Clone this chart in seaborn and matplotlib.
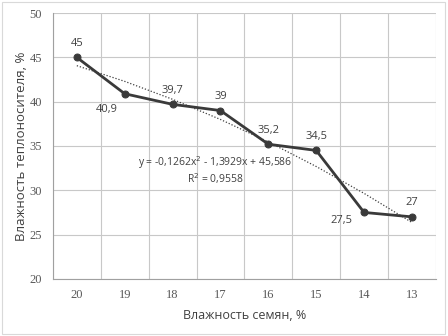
import matplotlib
matplotlib.use("Agg")
import matplotlib.pyplot as plt
import numpy as np
import pandas as pd
import seaborn as sns

# data
seed_moist = ["20", "19", "18", "17", "16", "15", "14", "13"]
carrier_moist = [45, 40.9, 39.7, 39, 35.2, 34.5, 27.5, 27]
point_labels = ["45", "40,9", "39,7", "39", "35,2", "34,5", "27,5", "27"]
label_below = [False, True, False, False, False, False, True, False]

# polynomial trend coefficients (Excel trendline, x = 1..n)
trend_a, trend_b, trend_c = -0.1262, -1.3929, 45.586
equation = "y = -0,1262x$^2$ - 1,3929x + 45,586"
r_squared = "R$^2$ = 0,9558"

df = pd.DataFrame({"seed": seed_moist, "carrier": carrier_moist})

sns.set_style("white")
plt.rcParams["font.family"] = ["Open Sans", "DejaVu Sans"]

fig = plt.figure(figsize=(4.48, 3.36), dpi=100)
ax = fig.add_axes([0.118, 0.170, 0.855, 0.791])

# trendline
xi = np.arange(1, len(seed_moist) + 1)
trend = trend_a * xi**2 + trend_b * xi + trend_c
ax.plot(xi - 1, trend, linestyle=(0, (1, 1.5)), color="#404040", linewidth=0.9, zorder=2)

sns.lineplot(data=df, x="seed", y="carrier", sort=False, ax=ax, color="#3a3a3a",
             linewidth=2, marker="o", markersize=5, markeredgecolor="#3a3a3a", zorder=3)

for i, (v, t, below) in enumerate(zip(carrier_moist, point_labels, label_below)):
    if below:
        off = (-16, -6) if i == 6 else (-13, -11)
    else:
        off = (0, 10)
    ax.annotate(t, (i, v), xytext=off, textcoords="offset points",
                ha="center", va="center", fontsize=8, color="#404040")

ax.text(2.9, 33.1, equation, fontsize=7.5, color="#404040", ha="center", va="center")
ax.text(2.9, 31.3, r_squared, fontsize=7.5, color="#404040", ha="center", va="center")

ax.set_xlim(-0.5, len(seed_moist) - 0.5)
ax.set_ylim(20, 50)
ax.set_yticks(range(20, 51, 5))
ax.set_xticks(range(len(seed_moist)))
ax.set_xticklabels(seed_moist)
ax.set_xticks(np.arange(-0.5, len(seed_moist)), minor=True)
ax.grid(False)
ax.grid(True, axis="y", which="major", color="#c8c8c8", linewidth=0.8)
ax.grid(True, axis="x", which="minor", color="#c8c8c8", linewidth=0.8)
ax.tick_params(axis="both", which="both", length=0, colors="#595959")
for lbl in ax.get_xticklabels() + ax.get_yticklabels():
    lbl.set_family("Liberation Serif")
    lbl.set_fontsize(9)
ax.tick_params(axis="x", pad=7)
ax.tick_params(axis="y", pad=8)

for side in ["left", "bottom"]:
    ax.spines[side].set_color("#a0a0a0")
for side in ["top", "right"]:
    ax.spines[side].set_visible(False)

ax.set_xlabel("Влажность семян, %", fontsize=9, color="#404040", labelpad=6)
ax.set_ylabel("Влажность теплоносителя, %", fontsize=9.5, color="#404040")
ax.yaxis.set_label_coords(-0.064, 0.5)

# outer frame
fig.patches.append(plt.Rectangle((0.004, 0.006), 0.99, 0.988, transform=fig.transFigure,
                                 fill=False, edgecolor="#d9d9d9", linewidth=0.8))

fig.savefig("out.png", dpi=100)
